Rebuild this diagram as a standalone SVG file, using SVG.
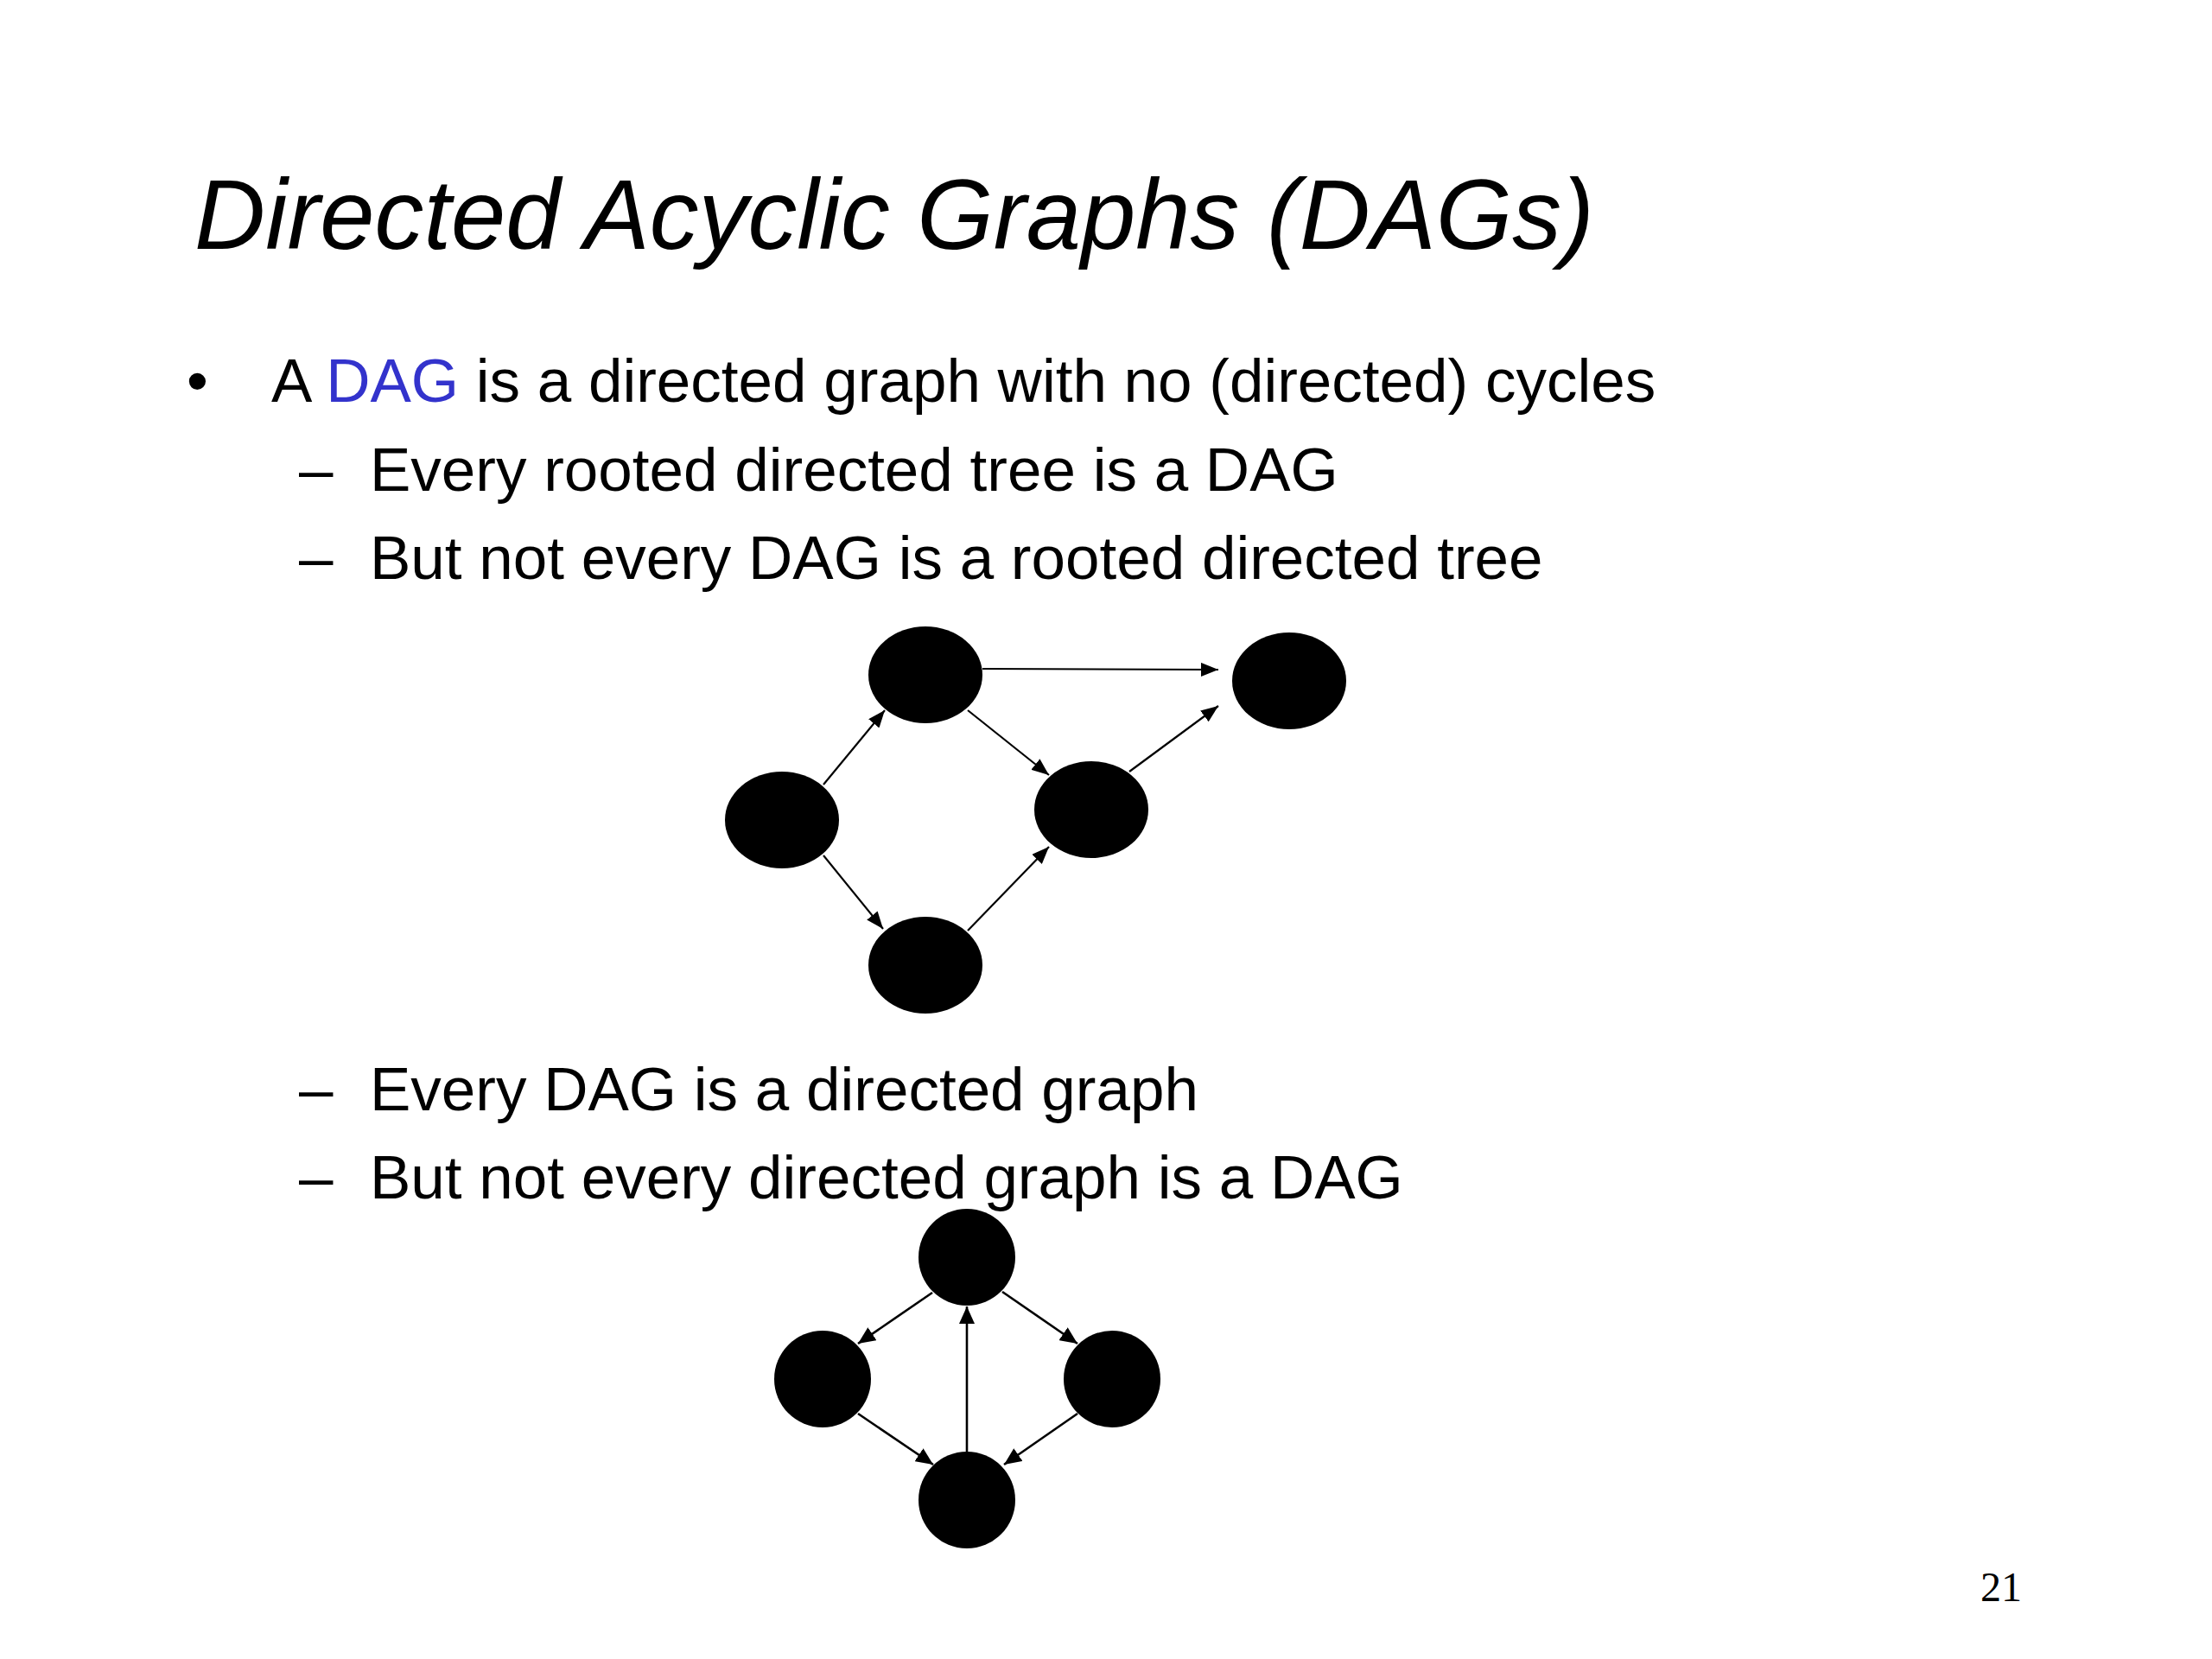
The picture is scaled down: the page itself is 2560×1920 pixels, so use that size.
<svg xmlns="http://www.w3.org/2000/svg" width="2560" height="1920" viewBox="0 0 2560 1920">
<style>
.t{font-family:"Liberation Sans",Arial,sans-serif;font-size:71px;fill:#000}
.title{font-family:"Liberation Sans",Arial,sans-serif;font-size:115px;font-style:italic;fill:#000}
.pg{font-family:"Liberation Serif","Times New Roman",serif;font-size:48px;fill:#000}
.link{fill:#3333CC}
.node{fill:#000}
.e1{stroke:#000;stroke-width:2.2;fill:none;marker-end:url(#ah)}
.e2{stroke:#000;stroke-width:2.6;fill:none;marker-end:url(#ah2)}
</style>
<defs>
<marker id="ah" viewBox="0 0 20 16" refX="20" refY="8" markerWidth="20" markerHeight="16" markerUnits="userSpaceOnUse" orient="auto">
<path d="M0,0 L20,8 L0,16 z" fill="#000"/>
</marker>
<marker id="ah2" viewBox="0 0 20 18" refX="20" refY="9" markerWidth="20" markerHeight="18" markerUnits="userSpaceOnUse" orient="auto">
<path d="M0,0 L20,9 L0,18 z" fill="#000"/>
</marker>
</defs>
<rect width="2560" height="1920" fill="#fff"/>

<text class="title" x="225" y="288" textLength="1620" lengthAdjust="spacingAndGlyphs">Directed Acyclic Graphs (DAGs)</text>

<text class="t" x="216" y="465">•</text>
<text class="t" x="314" y="465">A <tspan class="link">DAG</tspan> is a directed graph with no (directed) cycles</text>
<text class="t" x="346" y="568">–</text>
<text class="t" x="428" y="568">Every rooted directed tree is a DAG</text>
<text class="t" x="346" y="670">–</text>
<text class="t" x="428" y="670">But not every DAG is a rooted directed tree</text>
<text class="t" x="346" y="1285">–</text>
<text class="t" x="428" y="1285">Every DAG is a directed graph</text>
<text class="t" x="346" y="1387">–</text>
<text class="t" x="428" y="1387">But not every directed graph is a DAG</text>

<text class="pg" x="2292" y="1853">21</text>

<g id="connectors">
<line class="e1" x1="1137" y1="774" x2="1410" y2="775"/>
<line class="e1" x1="953" y1="908" x2="1024" y2="822"/>
<line class="e1" x1="1120" y1="822" x2="1214" y2="897"/>
<line class="e1" x1="1307" y1="893" x2="1410" y2="817"/>
<line class="e1" x1="953" y1="990" x2="1022" y2="1075"/>
<line class="e1" x1="1120" y1="1077" x2="1214" y2="980"/>

<line class="e2" x1="1079" y1="1496" x2="993" y2="1555"/>
<line class="e2" x1="1160" y1="1495" x2="1247" y2="1555"/>
<line class="e2" x1="993" y1="1636" x2="1080" y2="1695"/>
<line class="e2" x1="1247" y1="1636" x2="1162" y2="1695"/>
<line class="e2" x1="1119" y1="1680" x2="1119" y2="1512"/>
</g>

<g id="dag-left"><ellipse class="node" cx="905" cy="949" rx="66" ry="56"/></g>
<g id="dag-top"><ellipse class="node" cx="1071" cy="781" rx="66" ry="56"/></g>
<g id="dag-bottom"><ellipse class="node" cx="1071" cy="1117" rx="66" ry="56"/></g>
<g id="dag-mid"><ellipse class="node" cx="1263" cy="937" rx="66" ry="56"/></g>
<g id="dag-right"><ellipse class="node" cx="1492" cy="788" rx="66" ry="56"/></g>

<g id="cyc-top"><circle class="node" cx="1119" cy="1455" r="56"/></g>
<g id="cyc-left"><circle class="node" cx="952" cy="1596" r="56"/></g>
<g id="cyc-right"><circle class="node" cx="1287" cy="1596" r="56"/></g>
<g id="cyc-bottom"><circle class="node" cx="1119" cy="1736" r="56"/></g>
</svg>
